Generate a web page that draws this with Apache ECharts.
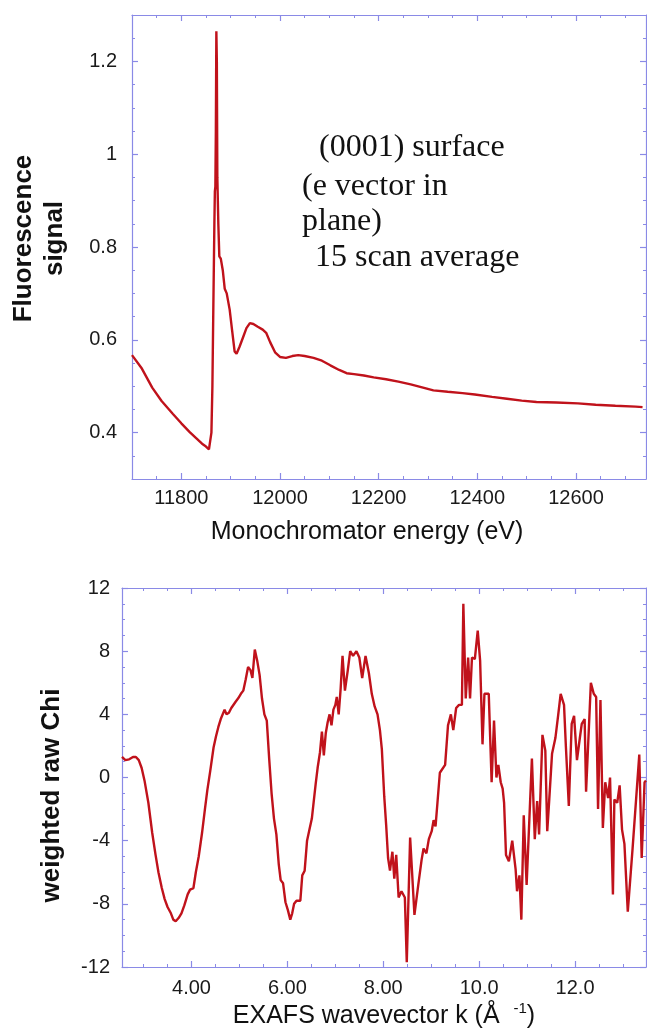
<!DOCTYPE html>
<html><head><meta charset="utf-8">
<script src="https://cdn.jsdelivr.net/npm/echarts@6/dist/echarts.min.js"></script>
<style>html,body{margin:0;padding:0;background:#fff}#c{width:647px;height:1035px}</style>
</head><body><div id="c"></div>
<script>
// ---- Top panel: fluorescence vs monochromator energy ----
const energy = [11700,11720,11741,11760,11783,11800,11817,11830,11842,11850,11856,11859,11861,11863,11865,11867,11868,11869,11870,11871,11872,11873,11875,11877,11880,11884,11888,11892,11898,11903,11908,11912,11918,11925,11932,11939,11946,11955,11965,11972,11980,11990,12000,12012,12025,12037,12050,12068,12085,12102,12120,12135,12150,12170,12190,12215,12240,12265,12290,12311,12340,12370,12395,12430,12460,12490,12520,12560,12604,12640,12680,12721,12735];
const fluor = [0.567,0.538,0.497,0.468,0.440,0.420,0.401,0.388,0.376,0.370,0.364,0.368,0.40,0.50,0.68,0.85,0.92,0.93,1.05,1.265,1.20,0.95,0.85,0.78,0.775,0.75,0.71,0.70,0.665,0.62,0.575,0.570,0.585,0.605,0.625,0.636,0.634,0.628,0.622,0.615,0.595,0.573,0.563,0.561,0.565,0.567,0.565,0.561,0.555,0.545,0.535,0.528,0.526,0.523,0.519,0.515,0.510,0.504,0.497,0.491,0.488,0.485,0.482,0.477,0.473,0.469,0.466,0.465,0.463,0.460,0.458,0.456,0.455];
const energyTicks = [11800,12000,12200,12400,12600];
const fluorTicks = [0.4,0.6,0.8,1.0,1.2];

// ---- Bottom panel: weighted raw chi vs k ----
const chiK = [2.55,2.62,2.7,2.78,2.84,2.9,2.96,3.02,3.1,3.18,3.25,3.31,3.38,3.44,3.5,3.57,3.62,3.67,3.73,3.79,3.85,3.92,3.97,4.04,4.09,4.15,4.22,4.28,4.33,4.39,4.46,4.51,4.56,4.61,4.65,4.69,4.73,4.78,4.83,4.87,4.92,4.97,5.03,5.08,5.13,5.18,5.23,5.27,5.32,5.37,5.42,5.47,5.52,5.57,5.62,5.67,5.72,5.77,5.82,5.86,5.91,5.96,6.01,6.06,6.1,6.14,6.19,6.27,6.31,6.36,6.41,6.46,6.51,6.55,6.59,6.63,6.68,6.72,6.76,6.8,6.84,6.88,6.92,6.96,7.0,7.03,7.07,7.11,7.15,7.2,7.26,7.31,7.37,7.44,7.5,7.56,7.63,7.7,7.76,7.82,7.88,7.93,7.97,8.02,8.06,8.1,8.14,8.19,8.23,8.27,8.32,8.38,8.45,8.49,8.56,8.65,8.73,8.8,8.84,8.9,8.95,9.01,9.05,9.09,9.13,9.18,9.22,9.29,9.35,9.41,9.46,9.52,9.58,9.64,9.67,9.72,9.77,9.81,9.85,9.91,9.97,10.02,10.07,10.11,10.2,10.26,10.31,10.36,10.4,10.45,10.49,10.52,10.56,10.62,10.69,10.76,10.79,10.84,10.88,10.93,10.99,11.03,11.1,11.16,11.21,11.25,11.32,11.38,11.42,11.46,11.52,11.59,11.65,11.7,11.77,11.81,11.87,11.93,11.98,12.04,12.1,12.14,12.2,12.23,12.33,12.39,12.44,12.48,12.53,12.58,12.63,12.69,12.73,12.79,12.82,12.88,12.93,12.98,13.03,13.1,13.2,13.34,13.39,13.45,13.48];
const chiVal = [1.3,1.1,1.15,1.3,1.3,1.1,0.6,-0.2,-1.6,-3.5,-4.9,-6.0,-7.0,-7.7,-8.2,-8.6,-9.0,-9.1,-8.9,-8.6,-8.1,-7.4,-7.1,-7.0,-6.0,-5.0,-3.5,-2.0,-0.8,0.4,1.9,2.6,3.2,3.7,3.8,4.3,4.0,4.1,4.4,4.5,4.8,5.0,5.3,5.5,6.2,7.0,6.8,6.3,8.1,7.4,6.5,5.0,4.0,3.6,1.2,-1.0,-2.6,-3.6,-5.5,-6.5,-6.7,-7.9,-8.4,-9.0,-8.6,-8.0,-7.8,-7.8,-6.2,-5.9,-4.0,-3.3,-2.6,-1.5,-0.4,0.6,1.6,2.9,1.4,2.8,3.5,4.0,3.3,4.3,4.6,5.1,4.0,5.6,7.7,5.5,6.8,8.0,7.7,8.0,7.6,6.3,7.7,6.6,5.3,4.5,4.0,3.0,1.8,-1.2,-3.0,-5.1,-5.9,-4.7,-6.4,-4.9,-7.6,-7.2,-7.6,-11.7,-3.8,-8.7,-6.8,-5.2,-4.5,-4.8,-3.9,-3.4,-2.7,-3.1,-1.6,0.3,0.3,0.8,3.3,4.0,3.0,4.4,4.6,4.6,11.0,5.0,7.6,5.0,7.6,7.5,9.3,7.4,2.1,5.3,5.3,-0.3,3.6,0.0,0.8,-0.3,-0.7,-1.6,-4.9,-5.3,-4.0,-5.8,-7.2,-6.2,-9.0,-2.4,-6.8,-6.8,1.2,-3.9,-1.5,-3.6,2.7,1.7,-3.4,-1.5,1.5,2.5,4.0,5.3,4.6,1.9,-1.8,3.4,3.9,1.1,2.5,3.4,3.7,-0.9,6.0,5.3,5.1,-2.0,4.9,-3.2,-0.3,-1.3,0.0,-7.4,-1.4,-1.6,-0.5,-3.3,-4.2,-8.5,-4.5,1.45,-5.1,-0.3,-0.2];
const kTicks = [4,6,8,10,12];
const chiTicks = [-12,-8,-4,0,4,8,12];

// minor tick positions (between the labelled ticks)
function minorList(from, to, step, majors) {
  const out = [];
  for (let v = from; v <= to + 1e-9; v += step) {
    const r = Math.round(v * 1000) / 1000;
    if (!majors.some(m => Math.abs(m - r) < 1e-6)) out.push(r);
  }
  return out;
}
const energyMinor = minorList(11750, 12700, 50, energyTicks);
const fluorMinor = minorList(0.35, 1.25, 0.05, fluorTicks);
const kMinor = minorList(3.0, 13.0, 0.5, kTicks);
const chiMinor = minorList(-11, 11, 1, chiTicks);

const AXIS = '#8a8ae6';
const LINE = '#c0121b';
const SANS = 'Liberation Sans';

function makeAxes(grid, isX, min, max, majors, minors, labelOpt) {
  const sides = isX ? ['bottom', 'top'] : ['left', 'right'];
  const base = { type: 'value', gridIndex: grid, min: min, max: max, splitLine: { show: false }, axisPointer: { show: false } };
  const list = [];
  sides.forEach((side, si) => {
    list.push(Object.assign({}, base, {
      position: side,
      axisLine: { show: true, onZero: false, lineStyle: { color: AXIS, width: 1.2 } },
      axisTick: { show: true, inside: true, length: 6, customValues: majors, lineStyle: { color: AXIS, width: 1.2 } },
      axisLabel: si === 0 ? Object.assign({ show: true, customValues: majors, color: '#1a1a1a', fontFamily: SANS, fontSize: 20, showMinLabel: true, showMaxLabel: true }, labelOpt) : { show: false },
      name: si === 0 ? labelOpt.axisName : '',
      nameLocation: 'middle',
      nameGap: labelOpt.nameGap,
      nameTextStyle: labelOpt.nameStyle
    }));
    list.push(Object.assign({}, base, {
      position: side,
      axisLine: { show: false, onZero: false },
      axisTick: { show: true, inside: true, length: 3, customValues: minors, lineStyle: { color: AXIS, width: 1 } },
      axisLabel: { show: false }
    }));
  });
  return list;
}

const topX = makeAxes(0, true, 11700, 12742, energyTicks, energyMinor, {
  margin: 9, formatter: v => String(Math.round(v)),
  axisName: 'Monochromator energy (eV)', nameGap: 41,
  nameStyle: { fontFamily: SANS, fontSize: 25, color: '#111', padding: [0, 44, 0, 0] }
});
const topY = makeAxes(0, false, 0.3, 1.3, fluorTicks, fluorMinor, {
  margin: 15, formatter: v => String(Math.round(v * 10) / 10),
  axisName: 'Fluorescence\nsignal', nameGap: 62,
  nameStyle: { fontFamily: SANS, fontSize: 26, fontWeight: 'bold', color: '#111', lineHeight: 31, padding: [0, 0, 0, 17] }
});
const botX = makeAxes(1, true, 2.55, 13.48, kTicks, kMinor, {
  margin: 11, formatter: v => (v < 10 ? v.toFixed(2) : v.toFixed(1)),
  axisName: '{a|EXAFS wavevector k (Å  }{s|-1}{a|)}', nameGap: 34,
  nameStyle: { fontFamily: SANS, color: '#111', rich: {
    a: { fontFamily: SANS, fontSize: 25, lineHeight: 30, color: '#111' },
    s: { fontFamily: SANS, fontSize: 15, lineHeight: 15, verticalAlign: 'top', color: '#111' } } }
});
const botY = makeAxes(1, false, -12, 12, chiTicks, chiMinor, {
  margin: 12, formatter: v => String(Math.round(v)),
  axisName: 'weighted raw Chi', nameGap: 55,
  nameStyle: { fontFamily: SANS, fontSize: 26, fontWeight: 'bold', color: '#111', lineHeight: 30, padding: [0, 36, 0, 0] }
});

const serif = '32px "Liberation Serif"';
const note = (x, y, t) => ({ type: 'text', x: x, y: y, style: { text: t, font: serif, fill: '#111', textVerticalAlign: 'middle' } });

const chart = echarts.init(document.getElementById('c'), null, { renderer: 'canvas' });
chart.setOption({
  animation: false,
  backgroundColor: '#fff',
  grid: [
    { left: 132, top: 15, right: 1, height: 464 },
    { left: 122, top: 588, right: 1, height: 379 }
  ],
  xAxis: topX.concat(botX),
  yAxis: topY.concat(botY),
  series: [
    { type: 'line', xAxisIndex: 0, yAxisIndex: 0, showSymbol: false, symbol: 'none',
      data: energy.map((e, i) => [e, fluor[i]]), lineStyle: { color: LINE, width: 2.4 } },
    { type: 'line', xAxisIndex: 4, yAxisIndex: 4, showSymbol: false, symbol: 'none',
      data: chiK.map((k, i) => [k, chiVal[i]]), lineStyle: { color: LINE, width: 2.4 } }
  ],
  graphic: [
    note(319, 148, '(0001) surface'),
    note(302, 187, '(e vector in'),
    note(302, 222, 'plane)'),
    note(315, 258, '15 scan average')
  ]
});
</script>
</body></html>
